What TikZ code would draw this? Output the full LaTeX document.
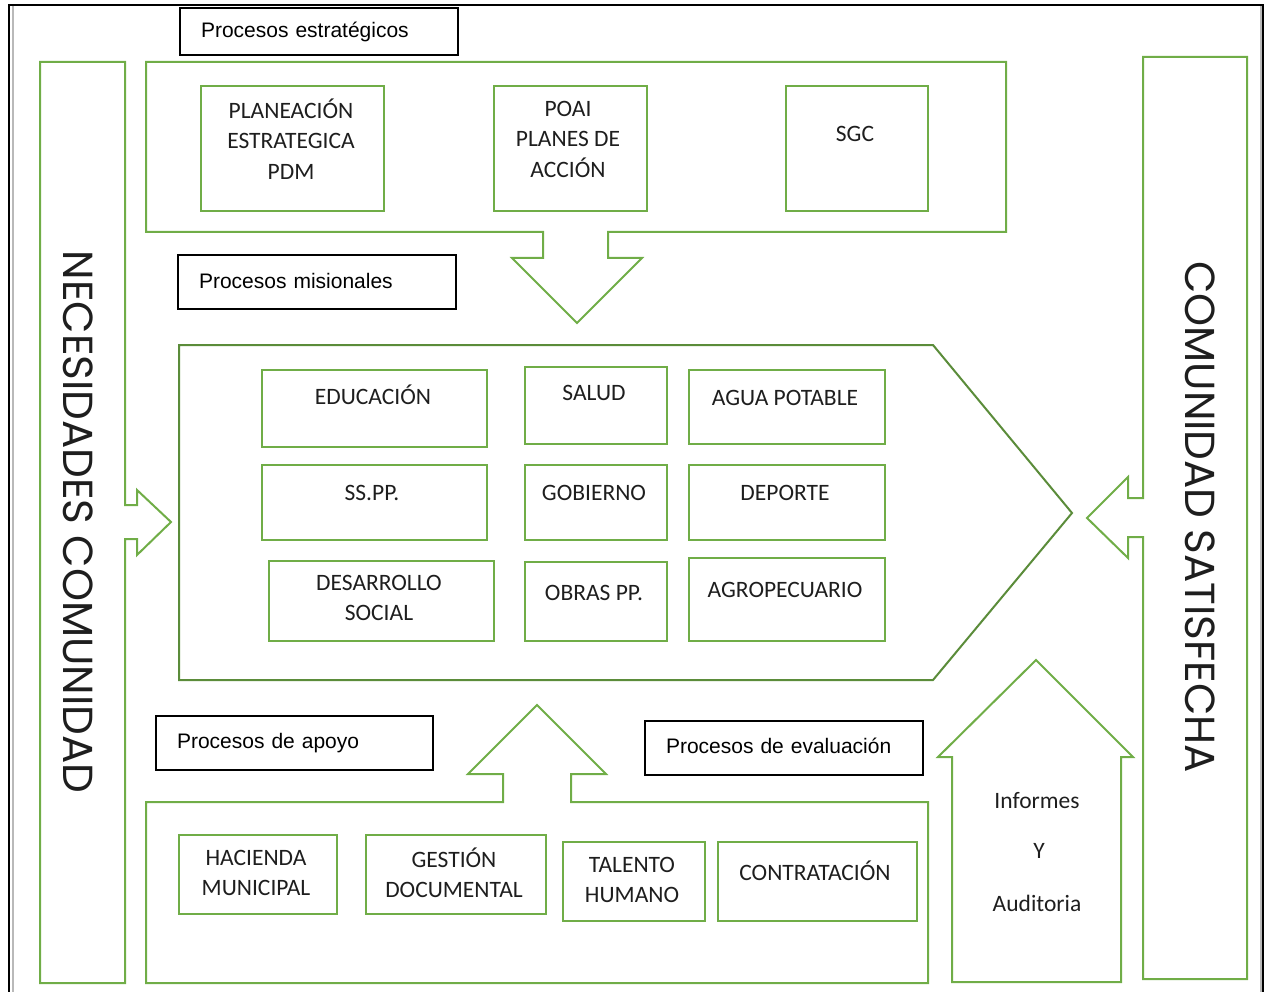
\documentclass[tikz,border=0pt]{standalone}
\usepackage{fontspec}
\setmainfont{Carlito}
\newfontfamily\arialf{Liberation Sans}
\newfontfamily\gothic{Poppins}
\definecolor{gr}{HTML}{70AD47}
\definecolor{dgr}{HTML}{5B8C3A}
\definecolor{txt}{HTML}{1E1E1E}
\begin{document}
\begin{tikzpicture}[x=1pt,y=-1pt,
  gs/.style={draw=gr,line width=2pt,line join=miter},
  ds/.style={draw=dgr,line width=2pt,line join=miter},
  gbox/.style={draw=gr,line width=2pt,inner sep=0pt},
  btxt/.style={font=\fontsize{23.5}{30.5}\selectfont,text=txt,align=center,inner sep=0pt},
  lbox/.style={draw=black,line width=1.5pt,fill=white,minimum height=47pt,
    text width=236pt,inner xsep=21pt,inner ysep=0pt,align=left,
    font=\arialf\fontsize{21}{25}\selectfont},
  vtxt/.style={rotate=-90,font=\gothic\fontsize{42}{44}\selectfont,text=txt,inner sep=0pt}]
\useasboundingbox (0,0) rectangle (1268,992);
% outer frame
\draw[black,line width=1.5pt] (9,5) rectangle (1263,1005);
\draw[gray!55,line width=2.5pt] (12.8,6) -- (12.8,995);
\draw[gray!55,line width=2pt] (1260.5,6) -- (1260.5,995);

% left bar with arrow
\draw[gs] (40,62) -- (125,62) -- (125,505) -- (137,505) -- (137,490) -- (171,522)
  -- (137,555) -- (137,539) -- (125,539) -- (125,983) -- (40,983) -- cycle;
\node[vtxt] (nec) at (78,522) {NECESIDADES COMUNIDAD};

% right bar with arrow
\draw[gs] (1143,57) -- (1247,57) -- (1247,979) -- (1143,979) -- (1143,537) -- (1128,537)
  -- (1128,558) -- (1087,518) -- (1128,477) -- (1128,498) -- (1143,498) -- cycle;
\node[vtxt] (com) at (1200,517) {COMUNIDAD SATISFECHA};

% strategic container
\draw[gs] (146,62) -- (1006,62) -- (1006,232) -- (608,232) -- (608,258) -- (642,258)
  -- (577,323) -- (512,258) -- (543,258) -- (543,232) -- (146,232) -- cycle;

% missional pentagon
\draw[ds] (179,345) -- (933,345) -- (1072,513) -- (933,680) -- (179,680) -- cycle;

% support container
\draw[gs] (146,802) -- (503,802) -- (503,774) -- (468,774) -- (537,705) -- (606,774)
  -- (571,774) -- (571,802) -- (928,802) -- (928,983) -- (146,983) -- cycle;

% evaluation arrow
\draw[gs] (952,982) -- (952,757) -- (938,757) -- (1036,660) -- (1133,757) -- (1121,757)
  -- (1121,982) -- cycle;
\node[btxt] (inf) at (1037,801) {Informes};
\node[btxt] (yy) at (1039,851) {Y};
\node[btxt] (aud) at (1037,903) {Auditoria};

% label boxes
\node[lbox,minimum width=278pt] (lest) at (319,31.5) {Procesos estratégicos};
\node[lbox,minimum width=278pt,minimum height=54pt] (lmis) at (317,282) {\raisebox{3pt}{Procesos misionales}};
\node[lbox,minimum width=277pt,minimum height=54pt,text width=235pt,inner xsep=20pt] (lapo) at (294.5,743) {Procesos de apoyo};
\node[lbox,minimum width=278pt,minimum height=54pt] (leva) at (784,748) {\raisebox{3.5pt}{Procesos de evaluación}};

% strategic boxes
\node[gbox,minimum width=183pt,minimum height=125pt] (pla) at (292.5,148.5) {};
\node[btxt] at (291,139) {PLANEACIÓN\\ESTRATEGICA\\PDM};
\node[gbox,minimum width=153pt,minimum height=125pt] (poai) at (570.5,148.5) {};
\node[btxt] at (568,139) {POAI\\PLANES DE\\ACCIÓN};
\node[gbox,minimum width=142pt,minimum height=125pt] (sgc) at (857,148.5) {};
\node[btxt] at (855,134) {SGC};

% missional boxes
\node[gbox,minimum width=225pt,minimum height=77pt] (edu) at (374.5,408.5) {};
\node[btxt] at (373,395) {EDUCACIÓN};
\node[gbox,minimum width=142pt,minimum height=77pt] (sal) at (596,405.5) {};
\node[btxt] at (594,393) {SALUD};
\node[gbox,minimum width=196pt,minimum height=74pt] (agu) at (787,407) {};
\node[btxt] at (785,398) {AGUA POTABLE};
\node[gbox,minimum width=225pt,minimum height=75pt] (ssp) at (374.5,502.5) {};
\node[btxt] at (372,493) {SS.PP.};
\node[gbox,minimum width=142pt,minimum height=75pt] (gob) at (596,502.5) {};
\node[btxt] at (594,493) {GOBIERNO};
\node[gbox,minimum width=196pt,minimum height=75pt] (dep) at (787,502.5) {};
\node[btxt] at (785,493) {DEPORTE};
\node[gbox,minimum width=225pt,minimum height=80pt] (des) at (381.5,601) {};
\node[btxt] at (379,598) {DESARROLLO\\SOCIAL};
\node[gbox,minimum width=142pt,minimum height=79pt] (obr) at (596,601.5) {};
\node[btxt] at (594,593) {OBRAS PP.};
\node[gbox,minimum width=196pt,minimum height=83pt] (agr) at (787,599.5) {};
\node[btxt] at (785,590) {AGROPECUARIO};

% support boxes
\node[gbox,minimum width=158pt,minimum height=79pt] (hac) at (258,874.5) {};
\node[btxt] at (256,873) {HACIENDA\\MUNICIPAL};
\node[gbox,minimum width=180pt,minimum height=79pt] (ges) at (456,874.5) {};
\node[btxt] at (454,873) {GESTIÓN\\DOCUMENTAL};
\node[gbox,minimum width=142pt,minimum height=79pt] (tal) at (634,881.5) {};
\node[btxt] at (632,880) {TALENTO\\HUMANO};
\node[gbox,minimum width=199pt,minimum height=79pt] (con) at (817.5,881.5) {};
\node[btxt] at (815,871) {CONTRATACIÓN};
\end{tikzpicture}
\end{document}
